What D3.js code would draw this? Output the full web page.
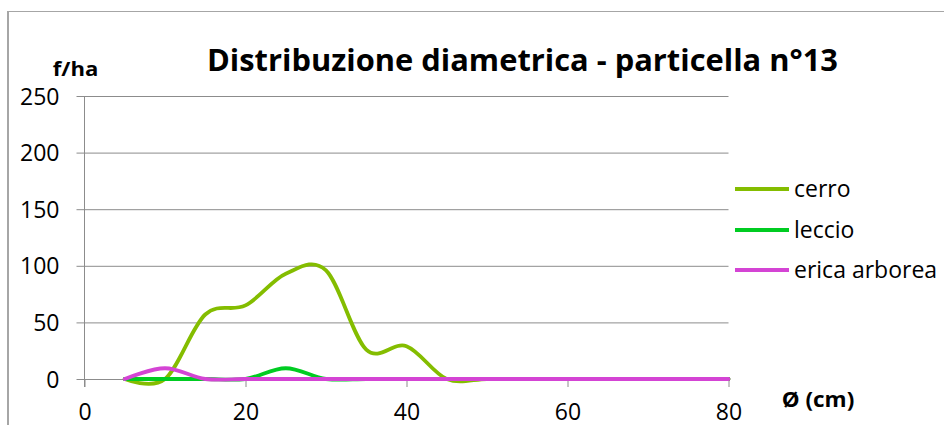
<!DOCTYPE html>
<html>
<head>
<meta charset="utf-8">
<script src="https://cdn.jsdelivr.net/npm/d3@7"></script>
<style>
  html, body { margin: 0; padding: 0; background: #fff; }
  svg { display: block; }
</style>
</head>
<body>
<svg id="chart" width="944" height="425"></svg>
<script>
const diameters = [5, 10, 15, 20, 25, 30, 35, 40, 45, 50, 55, 60, 65, 70, 75, 80];
const cerro = [0, 0, 57, 65, 93, 96, 26, 29, 0, 0, 0, 0, 0, 0, 0, 0];
const leccio = [0, 0, 0, 0, 9.5, 0, 0, 0, 0, 0, 0, 0, 0, 0, 0, 0];
const ericaArborea = [0, 9.5, 0, 0, 0, 0, 0, 0, 0, 0, 0, 0, 0, 0, 0, 0];
const seriesNames = ["cerro", "leccio", "erica arborea"];
const seriesColors = ["#84bd00", "#00cc22", "#d444d4"];
const xTicks = [0, 20, 40, 60, 80];
const yTicks = [0, 50, 100, 150, 200, 250];
const titleText = "Distribuzione diametrica - particella n°13";
const yTitle = "f/ha";
const xTitle = "Ø (cm)";

const seriesValues = [cerro, leccio, ericaArborea];
const svg = d3.select("#chart");
const font = "'Open Sans', 'Liberation Sans', sans-serif";

const x = d3.scaleLinear().domain([0, 80]).range([84.5, 728.5]);
const y = d3.scaleLinear().domain([0, 250]).range([379, 96]);

// outer frame
svg.append("line").attr("x1", 8).attr("x2", 8).attr("y1", 11).attr("y2", 425)
  .attr("stroke", "#a6a6a6").attr("stroke-width", 2);
svg.append("line").attr("x1", 7).attr("x2", 944).attr("y1", 11.5).attr("y2", 11.5)
  .attr("stroke", "#a6a6a6").attr("stroke-width", 1.2);

// gridlines
const grid = svg.append("g").attr("transform", "translate(84.5,0)")
  .call(d3.axisLeft(y).tickValues(yTicks).tickSize(-(728.5 - 84.5)).tickFormat(""));
grid.select(".domain").remove();
grid.selectAll("line").attr("stroke", "#8c8c8c").attr("stroke-width", 1);

// y axis
const yAxis = svg.append("g").attr("transform", "translate(84.5,0)")
  .call(d3.axisLeft(y).tickValues(yTicks).tickSize(8).tickPadding(17).tickSizeOuter(0));
yAxis.select(".domain").attr("stroke", "#8c8c8c").attr("d", "M0,96V387");
yAxis.selectAll("line").attr("stroke", "#8c8c8c");
yAxis.selectAll("text").attr("dy", 8).attr("font-family", font).attr("font-size", 23).attr("fill", "#000");

// x axis
const xAxis = svg.append("g").attr("transform", "translate(0,379)")
  .call(d3.axisBottom(x).tickValues(xTicks).tickSize(8).tickSizeOuter(0));
xAxis.select(".domain").attr("stroke", "#8c8c8c");
xAxis.selectAll("line").attr("stroke", "#8c8c8c");
xAxis.selectAll("text").attr("dy", null).attr("y", 40.5).attr("font-family", font).attr("font-size", 23).attr("fill", "#000");

// lines
const line = d3.line()
  .x((d, i) => x(diameters[i]))
  .y(d => y(d))
  .curve(d3.curveCatmullRom.alpha(0));

seriesValues.forEach((vals, k) => {
  svg.append("path").datum(vals)
    .attr("d", line)
    .attr("fill", "none")
    .attr("stroke", seriesColors[k])
    .attr("stroke-width", 3.8)
    .attr("stroke-linejoin", "round")
    .attr("stroke-linecap", "round");
});

// title
svg.append("text").attr("x", 207).attr("y", 70.7)
  .attr("font-family", font).attr("font-weight", "bold").attr("font-size", 31)
  .attr("textLength", 631).attr("lengthAdjust", "spacingAndGlyphs")
  .text(titleText);

// axis titles
svg.append("text").attr("x", 52.7).attr("y", 75.7)
  .attr("font-family", font).attr("font-weight", "bold").attr("font-size", 20)
  .attr("textLength", 45.6).attr("lengthAdjust", "spacingAndGlyphs")
  .text(yTitle);
svg.append("text").attr("x", 781.7).attr("y", 406.7)
  .attr("font-family", font).attr("font-weight", "bold").attr("font-size", 21)
  .attr("textLength", 72.6).attr("lengthAdjust", "spacingAndGlyphs")
  .text(xTitle);

// legend
const legendY = [189, 230, 270];
seriesNames.forEach((name, k) => {
  svg.append("line").attr("x1", 735).attr("x2", 789)
    .attr("y1", legendY[k]).attr("y2", legendY[k])
    .attr("stroke", seriesColors[k]).attr("stroke-width", 3.8);
  svg.append("text").attr("x", 794).attr("y", legendY[k] + 8)
    .attr("font-family", font).attr("font-size", 23).attr("fill", "#000")
    .text(name);
});
</script>
</body>
</html>
